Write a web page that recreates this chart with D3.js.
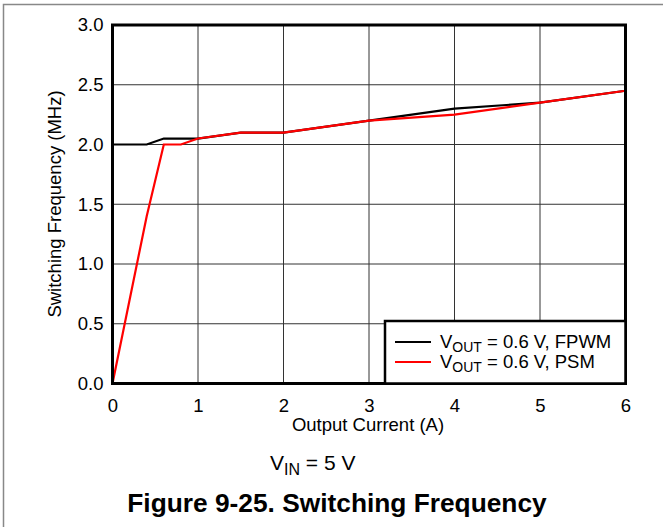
<!DOCTYPE html>
<html><head><meta charset="utf-8">
<script src="https://cdn.jsdelivr.net/npm/d3@7"></script>
<style>body{margin:0;background:#fff}text{font-family:Arial,"Liberation Sans",sans-serif}</style>
</head><body><svg id="c" width="663" height="527"></svg>
<script>
const xTicks=[0,1,2,3,4,5,6];
const yTicks=[0,0.5,1.0,1.5,2.0,2.5,3.0];
const fpwmX=[0,0.4,0.6,1,1.5,2,3,4,5,6];
const fpwmY=[2.0,2.0,2.05,2.05,2.1,2.1,2.2,2.3,2.35,2.45];
const psmX=[0,0.4,0.6,0.8,1,1.5,2,3,4,5,6];
const psmY=[0,1.4,2.0,2.0,2.05,2.1,2.1,2.2,2.25,2.35,2.45];
const seriesNames=["FPWM","PSM"];
const colors=["#000000","#ff0000"];
const FS=18.5;

const svg=d3.select("#c");
svg.append("rect").attr("x",3.5).attr("y",4.5).attr("width",700).attr("height",600).attr("fill","none").attr("stroke","#888").attr("stroke-width",1.5);
const L=112.5,R=625.5,T=25,B=383.5;
const x=d3.scaleLinear().domain([0,6]).range([L,R]);
const y=d3.scaleLinear().domain([0,3]).range([B,T]);
const g=svg.append("g");
g.selectAll(".gx").data(xTicks.slice(1,-1)).enter().append("line").attr("x1",d=>x(d)).attr("x2",d=>x(d)).attr("y1",T).attr("y2",B).attr("stroke","#333").attr("stroke-width",1);
g.selectAll(".gy").data(yTicks.slice(1,-1)).enter().append("line").attr("y1",d=>y(d)).attr("y2",d=>y(d)).attr("x1",L).attr("x2",R).attr("stroke","#333").attr("stroke-width",1);
const line=d3.line().x(d=>x(d[0])).y(d=>y(d[1]));
const series=[d3.zip(fpwmX,fpwmY),d3.zip(psmX,psmY)];
series.forEach((s,i)=>g.append("path").datum(s).attr("d",line).attr("fill","none").attr("stroke",colors[i]).attr("stroke-width",2.2));
g.append("rect").attr("x",L).attr("y",T).attr("width",R-L).attr("height",B-T).attr("fill","none").attr("stroke","#000").attr("stroke-width",3);
const ax=d3.axisBottom(x).tickValues(xTicks).tickSize(0).tickPadding(15).tickFormat(d3.format("d"));
const xa=svg.append("g").attr("transform",`translate(0,${B})`).call(ax);
xa.select(".domain").remove();
xa.selectAll("text").attr("font-size",FS).attr("fill","#000").attr("font-family","Arial, Liberation Sans, sans-serif");
const ay=d3.axisLeft(y).tickValues(yTicks).tickSize(0).tickPadding(9).tickFormat(d3.format(".1f"));
const ya=svg.append("g").attr("transform",`translate(${L},0)`).call(ay);
ya.select(".domain").remove();
ya.selectAll("text").attr("font-size",FS).attr("fill","#000").attr("font-family","Arial, Liberation Sans, sans-serif");
svg.append("text").attr("x",368).attr("y",431).attr("text-anchor","middle").attr("font-size",FS).text("Output Current (A)");
svg.append("text").attr("transform","translate(61,204) rotate(-90)").attr("text-anchor","middle").attr("font-size",FS).text("Switching Frequency (MHz)");
const lg=svg.append("g");
lg.append("rect").attr("x",385).attr("y",321).attr("width",R-385).attr("height",B-321).attr("fill","#fff").attr("stroke","#000").attr("stroke-width",2.5);
seriesNames.forEach((n,i)=>{
 const yy=342+i*20;
 lg.append("line").attr("x1",395).attr("x2",431).attr("y1",yy).attr("y2",yy).attr("stroke",colors[i]).attr("stroke-width",2.2);
 const t=lg.append("text").attr("x",440).attr("y",yy+6).attr("font-size",FS);
 t.append("tspan").text("V");
 t.append("tspan").attr("font-size",14).attr("dy",4).text("OUT");
 t.append("tspan").attr("dy",-4).text(" = 0.6 V, "+n);
});
const v=svg.append("text").attr("x",270).attr("y",470).attr("font-size",21);
v.append("tspan").text("V");
v.append("tspan").attr("font-size",16).attr("dy",5).text("IN");
v.append("tspan").attr("dy",-5).text(" = 5 V");
svg.append("text").attr("x",337).attr("y",512).attr("text-anchor","middle").attr("font-size",26.3).attr("font-weight","bold").text("Figure 9-25. Switching Frequency");
</script></body></html>
